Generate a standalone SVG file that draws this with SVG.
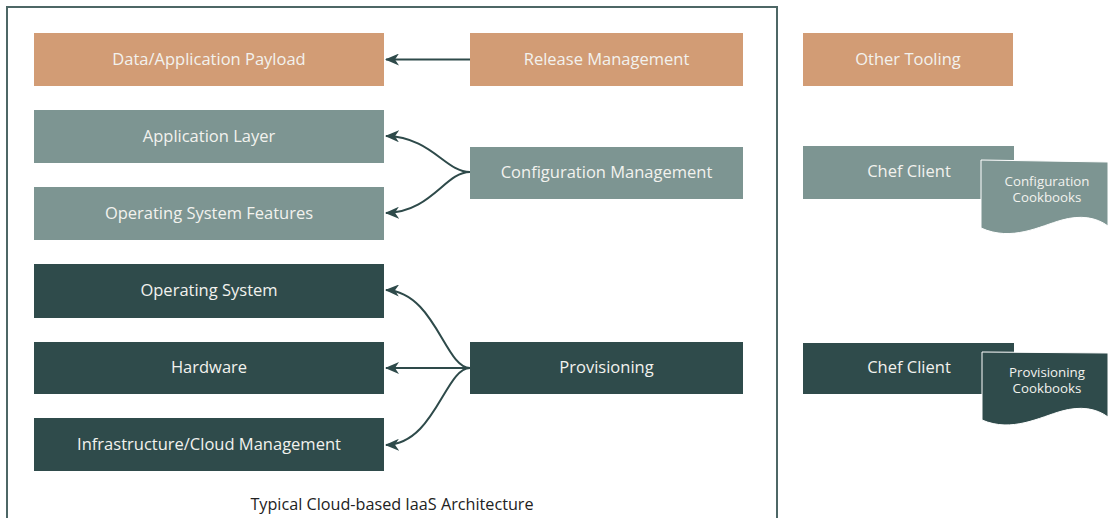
<svg xmlns="http://www.w3.org/2000/svg" width="1113" height="518" viewBox="0 0 1113 518">
<defs>
<marker id="ah" viewBox="0 0 14 12" markerWidth="14" markerHeight="12" refX="13" refY="6" orient="auto" markerUnits="userSpaceOnUse">
<path d="M0,0 L14,6 L0,12 L4,6 Z" fill="#2e4a4a"/>
</marker>
<style>
.orange{fill:#d29c75}
.light{fill:#7d9592}
.dark{fill:#2f4b4b}
.lbl{font-family:"Open Sans","Liberation Sans",sans-serif;font-size:16.5px;fill:#f2f2ee;text-anchor:middle;dominant-baseline:central}
.doc{font-family:"Open Sans","Liberation Sans",sans-serif;font-size:13.3px;fill:#f2f2ee;text-anchor:middle}
.con{fill:none;stroke:#2e4a4a;stroke-width:2;marker-end:url(#ah)}
</style>
</defs>
<rect x="0" y="0" width="1113" height="518" fill="#ffffff"/>
<rect id="frame" x="7" y="7" width="770" height="520" fill="none" stroke="#4d6766" stroke-width="2"/>
<text x="392" y="504" style="font-family:'Open Sans','Liberation Sans',sans-serif;font-size:16.2px;fill:#222;text-anchor:middle;dominant-baseline:central">Typical Cloud-based IaaS Architecture</text>

<g id="payload"><rect class="orange" x="34" y="33" width="350" height="53"/><text class="lbl" x="209" y="58">Data/Application Payload</text></g>
<g id="applayer"><rect class="light" x="34" y="110" width="350" height="53"/><text class="lbl" x="209" y="135">Application Layer</text></g>
<g id="osfeatures"><rect class="light" x="34" y="187" width="350" height="53"/><text class="lbl" x="209" y="212">Operating System Features</text></g>
<g id="os"><rect class="dark" x="34" y="264" width="350" height="54"/><text class="lbl" x="209" y="289.5">Operating System</text></g>
<g id="hardware"><rect class="dark" x="34" y="342" width="350" height="52"/><text class="lbl" x="209" y="366.5">Hardware</text></g>
<g id="infra"><rect class="dark" x="34" y="418" width="350" height="53"/><text class="lbl" x="209" y="443">Infrastructure/Cloud Management</text></g>

<g id="release"><rect class="orange" x="470" y="33" width="273" height="53"/><text class="lbl" x="606.5" y="58">Release Management</text></g>
<g id="config"><rect class="light" x="470" y="147" width="273" height="52"/><text class="lbl" x="606.5" y="171.5">Configuration Management</text></g>
<g id="provisioning"><rect class="dark" x="470" y="342" width="273" height="52"/><text class="lbl" x="606.5" y="366.5">Provisioning</text></g>

<g id="othertooling"><rect class="orange" x="803" y="33" width="210" height="53"/><text class="lbl" x="908" y="58">Other Tooling</text></g>
<g id="chefconfig"><rect class="light" x="803" y="146" width="211" height="53"/><text class="lbl" x="909" y="170.5">Chef Client</text></g>
<g id="configcookbooks"><path class="light" d="M981,160 L1108,162 L1108,226 C1096,217 1080,215 1062,220 C1040,226 1012,242 981,228 Z" stroke="#ffffff" stroke-width="1"/><text class="doc" x="1047" y="186">Configuration</text><text class="doc" x="1047" y="202">Cookbooks</text></g>
<g id="chefprov"><rect class="dark" x="803" y="343" width="211" height="51"/><text class="lbl" x="909" y="366.5">Chef Client</text></g>
<g id="provcookbooks"><path class="dark" d="M982,352 L1108,353 L1108,417 C1096,408 1080,406 1062,411 C1040,417 1012,433 982,420 Z" stroke="#ffffff" stroke-width="1"/><text class="doc" x="1047" y="377">Provisioning</text><text class="doc" x="1047" y="393">Cookbooks</text></g>

<g id="connectors">
<path class="con" d="M470,59.5 L386,59.5"/>
<path class="con" d="M470,172 C445,172 432,137 386,136"/>
<path class="con" d="M470,172 C445,172 432,212 386,213"/>
<path class="con" d="M470,368 C445,368 435,292 386,290"/>
<path class="con" d="M470,368 L386,368"/>
<path class="con" d="M470,368 C445,368 435,444 386,445"/>
</g>
</svg>
